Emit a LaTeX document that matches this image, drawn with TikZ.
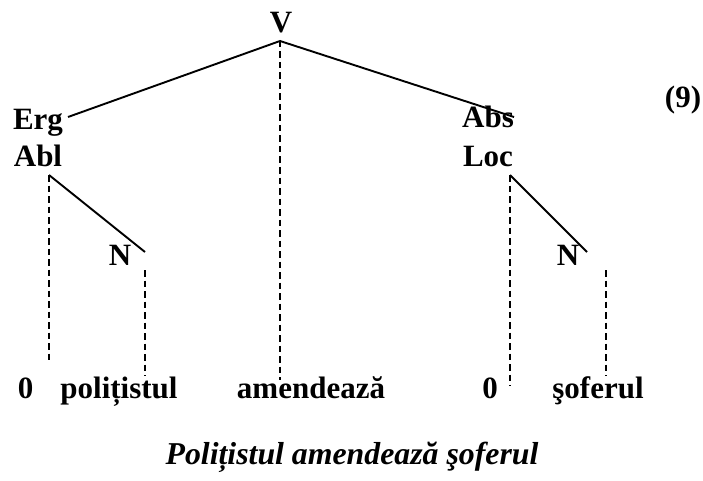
\documentclass[tikz,border=0pt]{standalone}
\usepackage{fontspec}
\setmainfont{Liberation Serif}
\usetikzlibrary{positioning}

\begin{document}
\begin{tikzpicture}[
  x=1pt, y=-1pt,
  font=\fontsize{31}{36}\selectfont\bfseries,
  every node/.style={inner sep=0, anchor=base},
  branch/.style={line width=1.9pt},
  link/.style={line width=1.9pt, dash pattern=on 6.5pt off 4pt}
  ]
  \useasboundingbox (0,0) rectangle (703,481);

  % labels of the tree
  \node (V) at (281,33) {V};
  \node (Erg) at (38,130) {Erg};
  \node (Abl) at (38,167) {Abl};
  \node (Abs) at (488,128) {Abs};
  \node (Loc) at (488,167) {Loc};
  \node (Nl) at (120,265) {N};
  \node (Nr) at (568,265) {N};
  \node (ex) at (683,108) {(9)};

  % words
  \node (z1) at (25.5,398) {0};
  \node (w1) at (119,398) {polițistul};
  \node (w2) at (311,398) {amendează};
  \node (z2) at (490,398) {0};
  \node (w3) at (598,398) {şoferul};
  \node (cap) at (352,464) {\fontsize{31.8}{36}\selectfont\itshape Polițistul amendează şoferul};

  % branch points
  \coordinate (v) at (280,41);
  \coordinate (erg) at (68,117);
  \coordinate (abs) at (514,117);
  \coordinate (abl) at (49,175);
  \coordinate (loc) at (510,175);
  \coordinate (nl) at (145,252);
  \coordinate (nr) at (587,252);
  \coordinate (nlt) at (145,270);
  \coordinate (nrt) at (606,270);
  \coordinate (e1) at (49,363);
  \coordinate (e2) at (145,376);
  \coordinate (e3) at (280,380);
  \coordinate (e4) at (510,386);
  \coordinate (e5) at (606,376);

  \draw[branch] (erg) -- (v) -- (abs);
  \draw[branch] (abl) -- (nl);
  \draw[branch] (loc) -- (nr);

  \draw[link] (v) -- (e3);
  \draw[link] (abl) -- (e1);
  \draw[link] (nlt) -- (e2);
  \draw[link] (loc) -- (e4);
  \draw[link] (nrt) -- (e5);
\end{tikzpicture}
\end{document}
